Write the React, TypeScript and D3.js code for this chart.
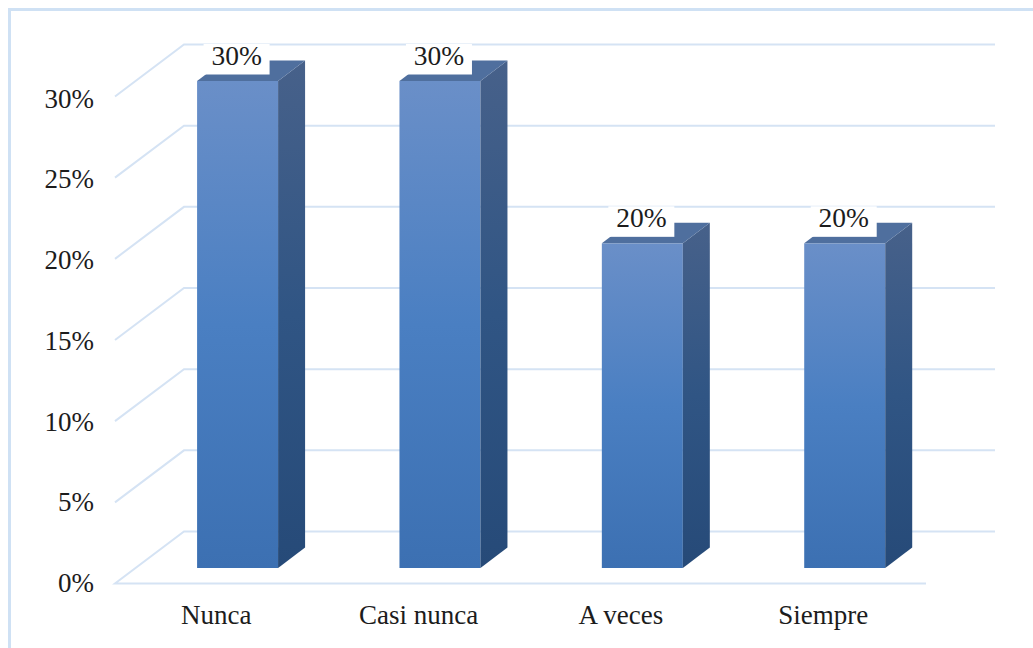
import React from "react";
import * as d3 from "d3";

const categories = ["Nunca", "Casi nunca", "A veces", "Siempre"];
const seriesValues = [30, 30, 20, 20];
const tickValues = [0, 5, 10, 15, 20, 25, 30];

const W = 1033, H = 648;
const FRONT_LEFT = 115, FRONT_RIGHT = 926, FLOOR_FRONT = 583.5;
const WALL_DX = 69, WALL_DY = 52;
const BAR_W = 81, BAR_DX = 27, BAR_DY = 20.5, BAR_BASE = 568, BAR_SHIFT = 21.4;
const FONT = "'Liberation Serif', 'Times New Roman', serif";
const GRID = "#d5e3f4";
const TEXT = "#1c1c1c";

export default function App() {
  const x = d3.scaleBand<string>().domain(categories).range([FRONT_LEFT, FRONT_RIGHT - 1.5]);
  const yFront = d3.scaleLinear().domain([0, 30]).range([FLOOR_FRONT, FLOOR_FRONT - 487]);
  const yBar = d3.scaleLinear().domain([0, 30]).range([BAR_BASE, BAR_BASE - 487]);
  const yLabel = d3.scaleLinear().domain([0, 30]).range([592, 107.5]);
  const line = d3.line();

  return (
    <svg width={W} height={H} viewBox={`0 0 ${W} ${H}`} style={{ position: "absolute", left: 0, top: 0, display: "block", background: "#fff" }}>
      <defs>
        <linearGradient id="front" x1="0" y1="0" x2="0" y2="1">
          <stop offset="0" stopColor="#6a8fc8" />
          <stop offset="0.5" stopColor="#4a7fc2" />
          <stop offset="1" stopColor="#3c70b2" />
        </linearGradient>
        <linearGradient id="side" x1="0" y1="0" x2="0" y2="1">
          <stop offset="0" stopColor="#47618a" />
          <stop offset="0.5" stopColor="#305584" />
          <stop offset="1" stopColor="#264a78" />
        </linearGradient>
      </defs>

      <path d="M9.5,648 V9.5 H1033" fill="none" stroke="#cfe1f4" strokeWidth={3} />

      {tickValues.map((t) => {
        const fy = yFront(t);
        const backY = fy - WALL_DY;
        const pts: [number, number][] = t === 0
          ? [[FRONT_RIGHT, fy], [FRONT_LEFT, fy], [FRONT_LEFT + WALL_DX, backY], [FRONT_RIGHT + WALL_DX, backY]]
          : [[FRONT_LEFT, fy], [FRONT_LEFT + WALL_DX, backY], [FRONT_RIGHT + WALL_DX, backY]];
        return <path key={t} d={line(pts) ?? ""} fill="none" stroke={GRID} strokeWidth={2} />;
      })}

      {tickValues.map((t) => (
        <text key={t} x={94} y={yLabel(t)} textAnchor="end" fontFamily={FONT} fontSize={27} fill={TEXT}>{t}%</text>
      ))}

      {categories.map((c, i) => {
        const x0 = (x(c) ?? 0) + x.bandwidth() / 2 + BAR_SHIFT - BAR_W / 2;
        const x1 = x0 + BAR_W;
        const top = yBar(seriesValues[i]);
        const labelCx = x0 + BAR_W / 2;
        const side: [number, number][] = [[x1, top], [x1 + BAR_DX, top - BAR_DY], [x1 + BAR_DX, BAR_BASE - BAR_DY], [x1, BAR_BASE]];
        const cap: [number, number][] = [[x0, top], [x0 + BAR_DX, top - BAR_DY], [x1 + BAR_DX, top - BAR_DY], [x1, top]];
        return (
          <g key={c}>
            <rect x={x0} y={top} width={BAR_W} height={BAR_BASE - top} fill="url(#front)" />
            <path d={line(side) + "Z"} fill="url(#side)" />
            <path d={line(cap) + "Z"} fill="#4f6f9e" />
            <rect x={labelCx - 34} y={top - 37} width={66} height={30.5} fill="#fff" />
            <text x={labelCx - 1} y={top - 16.5} textAnchor="middle" fontFamily={FONT} fontSize={27.5} fill={TEXT}>{seriesValues[i]}%</text>
            <text x={(x(c) ?? 0) + x.bandwidth() / 2} y={624} textAnchor="middle" fontFamily={FONT} fontSize={27} fill={TEXT}>{c}</text>
          </g>
        );
      })}
    </svg>
  );
}
